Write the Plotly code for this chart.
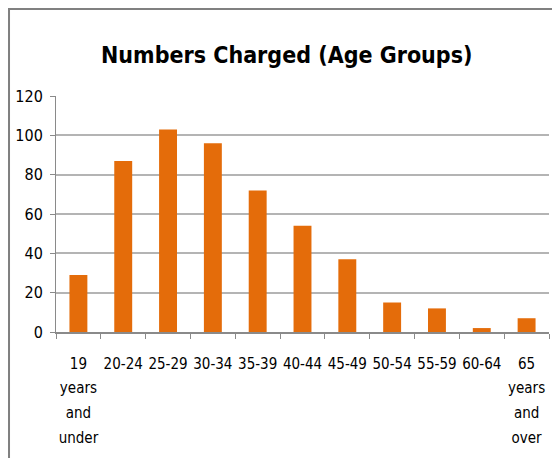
import plotly.graph_objects as go

# Age group categories and counts
age_groups = ["19<br>years<br>and<br>under", "20-24", "25-29", "30-34", "35-39", "40-44",
              "45-49", "50-54", "55-59", "60-64", "65<br>years<br>and<br>over"]
charged = [29, 87, 103, 96, 72, 54, 37, 15, 12, 2, 7]
y_ticks = [0, 20, 40, 60, 80, 100, 120]

font_family = "DejaVu Sans Condensed, Liberation Sans Narrow, sans-serif"
grid_col = "#b4b4b4"
axis_col = "#8a8a8a"

# small glyphs but the wider line spacing of a bigger base font
tick_text = ["<span style='font-size:15px'>%s</span>" % g.replace("<br>", "</span><br><span style='font-size:15px'>")
             for g in age_groups]

fig = go.Figure()
fig.add_trace(
    go.Bar(
        x=age_groups,
        y=charged,
        marker=dict(color="#E46C0A", line=dict(width=0)),
        showlegend=False,
    )
)

# page body has an 8px margin, so the figure is sized to fill the rest
fig.update_layout(
    width=552,
    height=450,
    margin=dict(l=48, r=11, t=88, b=126),
    paper_bgcolor="white",
    plot_bgcolor="white",
    bargap=0.6,
    title=dict(
        text="<b>Numbers Charged (Age Groups)</b>",
        x=0.505,
        xanchor="center",
        y=0.895,
        yanchor="middle",
        font=dict(family=font_family, size=23, color="black"),
        automargin=False,
    ),
    font=dict(family=font_family, size=16, color="black"),
)

fig.update_yaxes(
    range=[0, 120],
    tickvals=y_ticks,
    showgrid=True,
    gridcolor=grid_col,
    gridwidth=1.5,
    showline=True,
    linecolor=axis_col,
    ticks="outside",
    ticklen=5,
    tickcolor=axis_col,
    zeroline=False,
    automargin=False,
    ticklabelstandoff=4,
)

fig.update_xaxes(
    tickvals=age_groups,
    ticktext=tick_text,
    tickfont=dict(size=19),
    showline=True,
    linecolor=axis_col,
    linewidth=1.5,
    ticks="outside",
    tickson="boundaries",
    ticklen=5,
    tickcolor=axis_col,
    tickangle=0,
    ticklabelstandoff=12,
    automargin=False,
)

# outer chart border (top and left edges visible)
fig.add_shape(
    type="rect",
    xref="paper", yref="paper",
    x0=-0.0953, y0=-0.7, x1=1.2, y1=1.3686,
    line=dict(color="#808080", width=2),
    fillcolor="rgba(0,0,0,0)",
    layer="below",
)

fig.write_html("out.html")
